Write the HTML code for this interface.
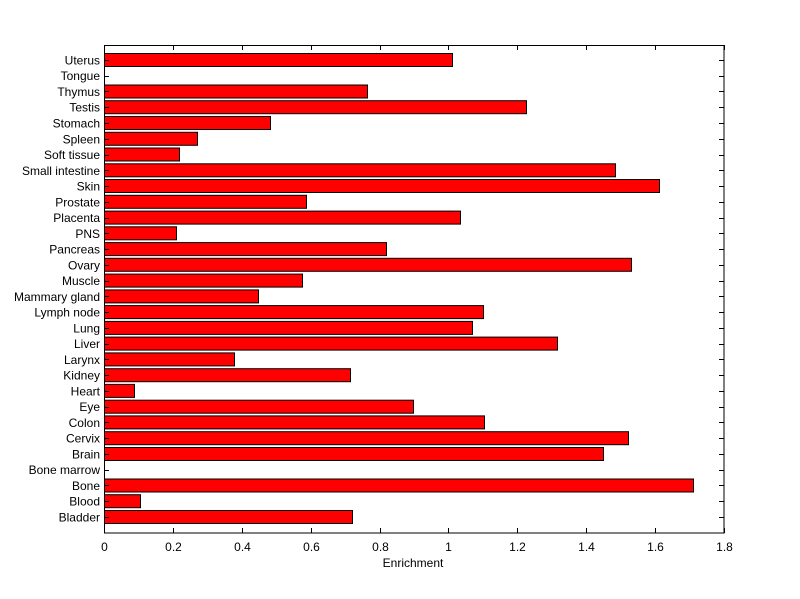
<!DOCTYPE html>
<html><head><meta charset="utf-8"><style>body{margin:0;background:#fff}svg{display:block}text{font-family:"Liberation Sans",Arial,sans-serif;font-size:12px;fill:#000}</style></head><body>
<svg width="800" height="599" xmlns="http://www.w3.org/2000/svg">
<rect width="800" height="599" fill="#fff"/>
<g id="bars" fill="#ff0000" stroke="#000" stroke-width="1"></g>
<g id="lab"></g>
<g id="tk" stroke="#000" stroke-width="1"></g>
<rect x="104.5" y="45.5" width="619.5" height="487.5" fill="none" stroke="#000"/>
<text x="413" y="567" text-anchor="middle">Enrichment</text>
<script>
var names=["Bladder","Blood","Bone","Bone marrow","Brain","Cervix","Colon","Eye","Heart","Kidney","Larynx","Liver","Lung","Lymph node","Mammary gland","Muscle","Ovary","Pancreas","PNS","Placenta","Prostate","Skin","Small intestine","Soft tissue","Spleen","Stomach","Testis","Thymus","Tongue","Uterus"];
var ends=[352,140,693,104,603,628,484,413,134,350,234,557,472,483,258,302,631,386,176,460,306,659,615,179,197,270,526,367,104,452];
var ns="http://www.w3.org/2000/svg",b=document.getElementById("bars"),l=document.getElementById("lab"),t=document.getElementById("tk");
function mk(tag,a,p,txt){var e=document.createElementNS(ns,tag);for(var k in a)e.setAttribute(k,a[k]);if(txt)e.textContent=txt;p.appendChild(e);}
for(var i=0;i<30;i++){var c=517-i*15.76;
if(ends[i]>104)mk("rect",{x:104.5,y:(c-6.5).toFixed(1),width:ends[i]-104,height:13},b);
mk("text",{x:100,y:(c+4.5).toFixed(1),"text-anchor":"end"},l,names[i]);
var yy=Math.round(c)+0.5;
mk("line",{x1:104,y1:yy,x2:109,y2:yy},t);mk("line",{x1:719,y1:yy,x2:724,y2:yy},t);}
for(var k=0;k<=9;k++){var x=Math.round(104+k*68.89)+0.5;
mk("line",{x1:x,y1:533,x2:x,y2:528},t);mk("line",{x1:x,y1:45,x2:x,y2:50},t);
var s=(k*0.2).toFixed(1).replace(/\.0$/,"");
mk("text",{x:x,y:551,"text-anchor":"middle"},l,s);}
</script>
</svg>
</body></html>
